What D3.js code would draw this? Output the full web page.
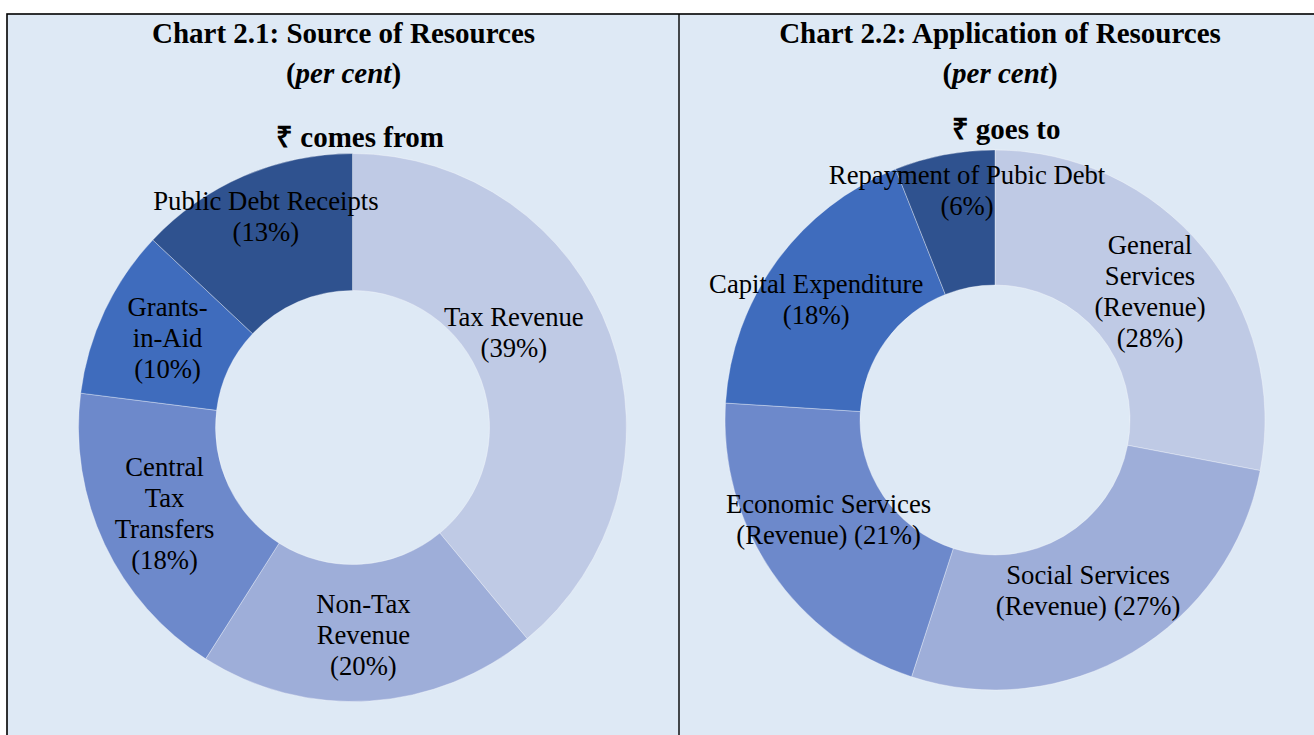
<!DOCTYPE html>
<html>
<head>
<meta charset="utf-8">
<script src="https://cdn.jsdelivr.net/npm/d3@7"></script>
<style>
  body { margin: 0; background: #fff; }
  svg { display: block; }
</style>
</head>
<body>
<script>
// Chart 2.1 : where the rupee comes from
const sourceNames = ["Tax Revenue", "Non-Tax Revenue", "Central Tax Transfers", "Grants-in-Aid", "Public Debt Receipts"]
const sourceValues = [39, 20, 18, 10, 13]

// Chart 2.2 : where the rupee goes
const applicationNames = ["General Services (Revenue)", "Social Services (Revenue)", "Economic Services (Revenue)", "Capital Expenditure", "Repayment of Pubic Debt"]
const applicationValues = [28, 27, 21, 18, 6]

const palette = ["#bfcae5", "#9eaed9", "#6d89cb", "#3f6cbd", "#2f528f"]

// how each label wraps, {v} is replaced by the value
const sourceWrap = [
  ["Tax Revenue", "({v}%)"],
  ["Non-Tax", "Revenue", "({v}%)"],
  ["Central", "Tax", "Transfers", "({v}%)"],
  ["Grants-", "in-Aid", "({v}%)"],
  ["Public Debt Receipts", "({v}%)"],
]
const applicationWrap = [
  ["General", "Services", "(Revenue)", "({v}%)"],
  ["Social Services", "(Revenue) ({v}%)"],
  ["Economic Services", "(Revenue) ({v}%)"],
  ["Capital Expenditure", "({v}%)"],
  ["Repayment of Pubic Debt", "({v}%)"],
]
// nudge from the arc centroid, like excel's "best fit"
const sourceNudge = [[-32, -25], [-2, 2], [-2, -1], [1, -2], [-5, -22]]
const applicationNudge = [[-1, 1], [-10, -4], [1, -14], [-15, -1], [10, -31]]

const width = 1314
const height = 735
const bg = "#dee9f5"
const serif = "'Times New Roman', 'Liberation Serif', serif"

const svg = d3.select("body").append("svg")
    .attr("viewBox", `0 0 ${width} ${height}`)
    .attr("width", width)
    .attr("height", height)

// table cells
svg.append("rect")
    .attr("x", 7).attr("y", 14)
    .attr("width", width + 20).attr("height", height + 20)
    .attr("fill", bg)
    .attr("stroke", "#000")
    .attr("stroke-width", 1.6)

svg.append("line")
    .attr("x1", 679).attr("x2", 679)
    .attr("y1", 14).attr("y2", height)
    .attr("stroke", "#000")
    .attr("stroke-width", 1.4)

function title(cx, num, text) {
  const t = svg.append("text")
      .attr("x", cx)
      .attr("y", 33)
      .attr("text-anchor", "middle")
      .attr("dominant-baseline", "central")
      .attr("font-family", serif)
      .attr("font-weight", "bold")
      .attr("font-size", 29)
      .attr("fill", "#000")
      .text(`Chart ${num}: ${text}`)

  const t2 = svg.append("text")
      .attr("x", cx)
      .attr("y", 73)
      .attr("text-anchor", "middle")
      .attr("dominant-baseline", "central")
      .attr("font-family", serif)
      .attr("font-weight", "bold")
      .attr("font-size", 29)
      .attr("fill", "#000")
  t2.append("tspan").text("(")
  t2.append("tspan").attr("font-style", "italic").text("per cent")
  t2.append("tspan").text(")")
}

function donut(cx, cy, R, names, values, wrap, nudge, subtitle, subX, subY) {
  svg.append("text")
      .attr("x", subX)
      .attr("y", subY)
      .attr("text-anchor", "middle")
      .attr("dominant-baseline", "central")
      .attr("font-family", serif)
      .attr("font-weight", "bold")
      .attr("font-size", 29)
      .attr("fill", "#000")
      .text(subtitle)

  const rows = names.map((name, i) => ({name, value: values[i], i}))

  const pie = d3.pie()
      .sort(null)
      .value(d => d.value)

  const arc = d3.arc()
      .innerRadius(R * 0.5)
      .outerRadius(R)

  const labelArc = d3.arc()
      .innerRadius(R * 0.75)
      .outerRadius(R * 0.75)

  const color = d3.scaleOrdinal()
      .domain(names)
      .range(palette)

  const g = svg.append("g")
      .attr("transform", `translate(${cx},${cy})`)

  const arcs = pie(rows)

  g.append("g")
    .selectAll("path")
    .data(arcs)
    .join("path")
      .attr("d", arc)
      .attr("fill", d => color(d.data.name))
      .attr("stroke", "rgba(255,255,255,0.45)")
      .attr("stroke-width", 0.75)

  const lineH = 31
  const labels = g.append("g")
    .selectAll("text")
    .data(arcs)
    .join("text")
      .attr("text-anchor", "middle")
      .attr("font-family", serif)
      .attr("font-size", 26.7)
      .attr("fill", "#000")
      .attr("transform", d => {
        const [x, y] = labelArc.centroid(d)
        const [dx, dy] = nudge[d.data.i]
        return `translate(${x + dx},${y + dy})`
      })

  labels.selectAll("tspan")
    .data(d => {
      const lines = wrap[d.data.i].map(s => s.replace("{v}", d.data.value))
      return lines.map((s, k) => ({s, y: (k - (lines.length - 1) / 2) * lineH}))
    })
    .join("tspan")
      .attr("x", 0)
      .attr("y", d => d.y)
      .attr("dominant-baseline", "central")
      .text(d => d.s)
}

title(343.5, "2.1", "Source of Resources")
title(1000, "2.2", "Application of Resources")

donut(352.5, 427.5, 274, sourceNames, sourceValues, sourceWrap, sourceNudge, "₹ comes from", 360, 137)
donut(995, 420, 270, applicationNames, applicationValues, applicationWrap, applicationNudge, "₹ goes to", 1006, 129)
</script>
</body>
</html>
